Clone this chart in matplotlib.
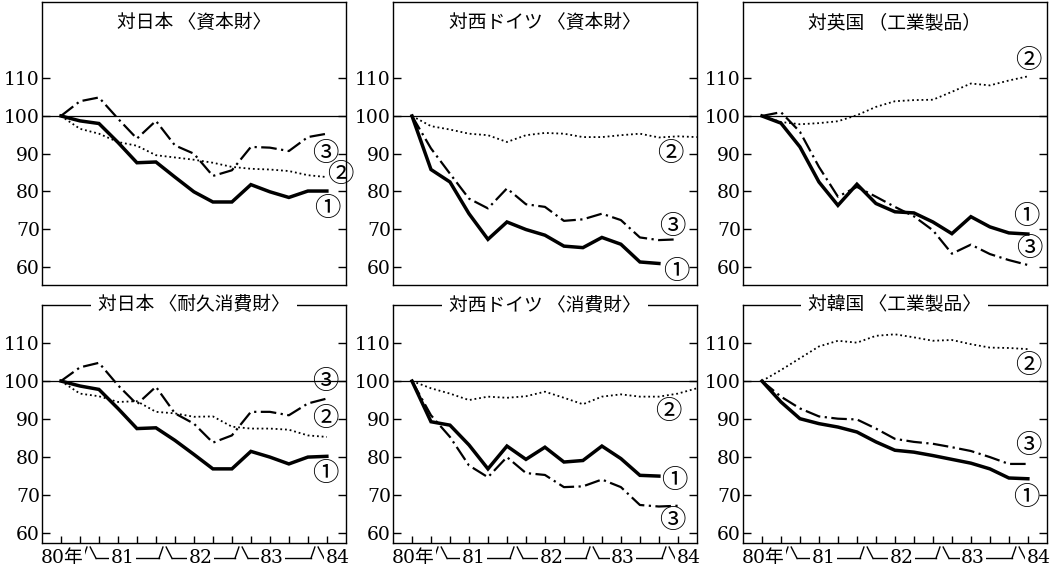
import numpy as np
import matplotlib
matplotlib.use("Agg")
from matplotlib import pyplot as plt
from matplotlib import transforms

plt.rcParams['font.family'] = ['DejaVu Serif', 'Noto Sans CJK JP']

# quarterly index, 1980 Q3 = 100 ... 1984 Q1
titles = ["対日本 〈資本財〉", "対西ドイツ 〈資本財〉", "対英国 （工業製品）",
          "対日本 〈耐久消費財〉", "対西ドイツ 〈消費財〉", "対韓国 〈工業製品〉"]

# series 1 (solid)
s1 = [
    [100, 98.7, 98.0, 93.0, 87.6, 87.8, 83.8, 79.9, 77.2, 77.2, 81.8, 79.9, 78.4, 80.1, 80.1],
    [100, 85.8, 82.5, 74.1, 67.3, 71.9, 69.9, 68.4, 65.5, 65.1, 67.8, 66.0, 61.3, 60.9],
    [100, 98.1, 91.8, 82.5, 76.3, 81.9, 76.8, 74.6, 74.3, 71.9, 68.8, 73.3, 70.6, 69.0, 68.7],
    [100, 98.7, 97.8, 92.8, 87.5, 87.7, 84.4, 80.7, 76.9, 76.9, 81.5, 80.0, 78.2, 80.0, 80.2],
    [100, 89.3, 88.4, 83.2, 76.9, 82.9, 79.4, 82.6, 78.7, 79.1, 82.9, 79.6, 75.2, 75.0],
    [100, 94.5, 90.1, 88.8, 87.9, 86.6, 84.0, 81.8, 81.3, 80.4, 79.4, 78.4, 76.9, 74.5, 74.3],
]
# series 2 (dotted)
s2 = [
    [100, 96.6, 95.3, 93.1, 92.1, 89.6, 89.0, 88.4, 87.6, 86.5, 86.0, 85.8, 85.4, 84.3, 83.8],
    [100, 97.3, 96.4, 95.3, 94.9, 93.1, 94.9, 95.5, 95.3, 94.4, 94.4, 94.9, 95.3, 94.3, 94.6, 94.4],
    [100, 98.4, 97.8, 98.1, 98.6, 100.2, 102.4, 103.9, 104.2, 104.3, 106.4, 108.6, 108.1, 109.4, 110.5],
    [100, 96.7, 96.0, 94.5, 94.7, 91.9, 91.5, 90.6, 90.7, 88.0, 87.5, 87.5, 87.2, 85.7, 85.3],
    [100, 98.1, 96.7, 95.0, 95.9, 95.6, 96.0, 97.2, 95.6, 93.9, 95.9, 96.5, 95.9, 95.9, 96.7, 98.1],
    [100, 102.9, 106.0, 109.1, 110.6, 110.1, 111.9, 112.3, 111.5, 110.6, 110.8, 109.7, 108.8, 108.7, 108.4],
]
# series 3 (dash-dot)
s3 = [
    [100, 103.9, 104.9, 99.3, 94.0, 98.7, 92.2, 90.0, 84.1, 85.6, 91.8, 91.6, 90.7, 94.4, 95.3],
    [100, 91.4, 84.7, 78.1, 75.5, 80.8, 76.6, 75.9, 72.2, 72.6, 74.1, 72.4, 67.8, 67.1, 67.3],
    [100, 101.0, 95.8, 86.5, 78.6, 81.2, 78.6, 75.9, 73.4, 69.7, 63.5, 65.9, 63.4, 61.8, 60.5],
    [100, 103.6, 104.8, 98.9, 93.9, 98.5, 91.5, 88.8, 83.8, 85.7, 91.9, 91.9, 91.0, 94.1, 95.4],
    [100, 91.0, 85.3, 77.8, 74.7, 80.0, 75.8, 75.3, 72.1, 72.3, 74.1, 72.1, 67.4, 67.0, 67.2],
    [100, 95.9, 92.8, 90.7, 90.1, 89.9, 87.5, 84.8, 84.0, 83.5, 82.6, 81.6, 80.0, 78.2, 78.2],
]
# where the circled numbers sit (x index, value)
lab1 = [(14.0, 75.6), (13.9, 58.7), (13.9, 73.4), (13.9, 75.6), (13.8, 73.8), (13.9, 69.4)]
lab2 = [(14.7, 84.5), (13.6, 90.0), (14.0, 114.7), (13.9, 90.1), (13.5, 91.9), (14.0, 104.2)]
lab3 = [(13.9, 90.0), (13.7, 70.6), (14.1, 64.9), (13.9, 100.0), (13.7, 63.4), (14.0, 83.1)]

yticks = [60, 70, 80, 90, 100, 110]
year_labels = ["80年", "81", "82", "83", "84"]
year_label_x = [0.05, 3.25, 7.35, 11.1, 14.55]
year_bounds = [1.5, 5.5, 9.5, 13.5]

fig = plt.figure(figsize=(10.57, 5.74), dpi=100)
lefts = [0.0397, 0.3718, 0.7029]
w = 0.2875
rows = [(0.5035, 0.493), (0.054, 0.4146)]
ylims = [(55.2, 130.2), (57.4, 120.0)]

cjk = ['Noto Sans CJK JP', 'DejaVu Sans']

for k in range(6):
    r, c = divmod(k, 3)
    ax = fig.add_axes([lefts[c], rows[r][0], w, rows[r][1]])
    ax.set_xlim(-1, 15)
    ax.set_ylim(*ylims[r])
    for sp in ax.spines.values():
        sp.set_linewidth(1.0)
    ax.axhline(100, color='black', lw=0.9)

    ax.plot(np.arange(len(s1[k])), s1[k], color='black', lw=2.5, solid_joinstyle='miter')
    ax.plot(np.arange(len(s2[k])), s2[k], color='black', lw=1.3, linestyle=(0, (1, 1.6)))
    ax.plot(np.arange(len(s3[k])), s3[k], color='black', lw=1.6, linestyle=(0, (7, 2, 1, 2)))

    for txt, pos in zip(["①", "②", "③"], [lab1[k], lab2[k], lab3[k]]):
        ax.text(pos[0], pos[1], txt, ha='center', va='center', fontsize=19,
                family=cjk, zorder=5)

    ax.set_yticks(yticks)
    ax.tick_params(axis='y', direction='in', left=True, right=True, length=6,
                   width=1, pad=1.5, labelsize=13.5)
    ax.set_xticks(np.arange(15))
    if r == 0:
        ax.tick_params(axis='x', bottom=False, labelbottom=False)
        ax.text(0.5, 0.928, titles[k], transform=ax.transAxes, ha='center',
                va='center', fontsize=13.5, family=cjk)
    else:
        ax.tick_params(axis='x', direction='in', length=5, width=1, labelbottom=False)
        ax.text(0.5, 1.0, titles[k], transform=ax.transAxes, ha='center',
                va='center', fontsize=13.5, family=cjk,
                bbox=dict(facecolor='white', edgecolor='none', pad=5))
        tr = transforms.blended_transform_factory(ax.transData, ax.transAxes)
        hi, lo = -0.017, -0.065
        for b in year_bounds:
            ax.plot([b - 0.34, b - 0.13], [lo, hi], color='black', lw=1,
                    transform=tr, clip_on=False)
            ax.plot([b + 0.04, b + 0.35], [hi, lo], color='black', lw=1,
                    transform=tr, clip_on=False)
        for a, bnd in zip(year_bounds[:-1], year_bounds[1:]):
            ax.plot([a + 0.35, bnd - 0.34], [lo, lo], color='black', lw=1,
                    transform=tr, clip_on=False)
        for lab, xx in zip(year_labels, year_label_x):
            ax.text(xx, lo, lab, transform=tr, ha='center', va='center', fontsize=13.5,
                    bbox=dict(facecolor='white', edgecolor='none', pad=1.0))

fig.savefig("out.png", dpi=100)
